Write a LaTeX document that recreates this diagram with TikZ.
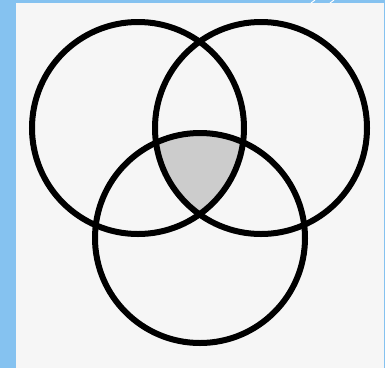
\documentclass[tikz,border=0pt]{standalone}
\usepackage{tikz}
\definecolor{frameblue}{RGB}{133,194,240}
\definecolor{panelgray}{RGB}{246,246,246}
\definecolor{interfill}{RGB}{204,204,204}
\tikzset{ring/.style={line width=6pt, draw=black}}
\begin{document}
\begin{tikzpicture}[x=1pt,y=-1pt]
\fill[frameblue] (0,0) rectangle (385,368);
\useasboundingbox (0,0) rectangle (385,368);
\fill[panelgray] (16,3) rectangle (384,368);
\draw[white, line width=1pt] (311,3) -- (315,0);
\draw[white, line width=1pt] (330,3) -- (334,0);
\coordinate (cl) at (138,128);
\coordinate (cr) at (261,128);
\coordinate (cb) at (200,238);
\begin{scope}
\clip (cl) circle (106);
\clip (cr) circle (106);
\fill[interfill] (cb) circle (105);
\end{scope}
\draw[ring] (cl) circle (106);
\draw[ring] (cr) circle (106);
\draw[ring] (cb) circle (105);
\end{tikzpicture}
\end{document}
